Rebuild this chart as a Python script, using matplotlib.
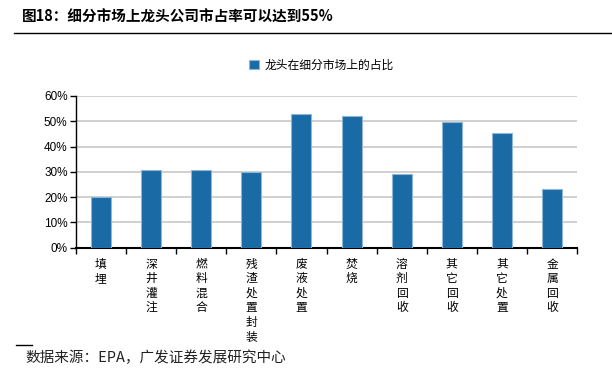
import matplotlib
matplotlib.use("Agg")
from matplotlib import pyplot as plt
from matplotlib.lines import Line2D
from matplotlib.ticker import MultipleLocator, PercentFormatter

plt.rcParams['font.family'] = ['Noto Sans CJK SC', 'DejaVu Sans']

categories = ["填埋", "深井灌注", "燃料混合", "残渣处置/封装", "废液处置",
              "焚烧", "溶剂回收", "其它回收", "其它处置", "金属回收"]
share = [20.1, 30.7, 30.7, 30.0, 52.8, 52.0, 29.1, 49.6, 45.2, 23.2]
series_name = "龙头在细分市场上的占比"
title = "图18：细分市场上龙头公司市占率可以达到55%"
source = "数据来源：EPA，广发证券发展研究中心"

bar_color = "#1A6AA6"

fig = plt.figure(figsize=(6.12, 3.76), dpi=100)
ax = fig.add_axes([0.124, 0.341, 0.819, 0.404])

x = range(len(categories))
ax.bar(x, share, width=0.4, color=bar_color, edgecolor="#8DB6D8",
       linewidth=0.8, label=series_name, zorder=3)

ax.set_xlim(-0.5, len(categories) - 0.5)
ax.set_ylim(0, 60)
ax.yaxis.set_major_locator(MultipleLocator(10))
ax.yaxis.set_major_formatter(PercentFormatter(decimals=0))
ax.grid(axis="y", color="#C8C8C8", linewidth=1.2, zorder=0)
for s in ["top", "right"]:
    ax.spines[s].set_visible(False)
ax.spines["left"].set_linewidth(1.0)
ax.spines["bottom"].set_linewidth(1.5)

for lab in ax.get_yticklabels():
    lab.set_family(["Liberation Sans"])
    lab.set_fontsize(8.5)
ax.tick_params(axis="y", length=4, width=1, pad=2)

# category boundaries get the tick marks, labels sit in the middle
ax.set_xticks([i - 0.5 for i in range(len(categories) + 1)])
ax.set_xticklabels([])
ax.tick_params(axis="x", length=4, width=1, direction="out")
ax.set_xticks(list(x), minor=True)
vert = ["\n".join(c for c in name if c != "/") for name in categories]
ax.set_xticklabels(vert, minor=True, fontsize=8.5, linespacing=1.15,
                   va="top")
ax.tick_params(axis="x", which="minor", length=0, pad=7)

ax.legend(loc="center", bbox_to_anchor=(0.49, 1.2), frameon=False,
          fontsize=8.5, handlelength=0.8, handleheight=0.8,
          handletextpad=0.5)

fig.text(0.036, 0.955, title, fontsize=10.5, fontweight="bold", va="center")
fig.add_artist(Line2D([0.023, 1.0], [0.912, 0.912], color="black",
                      linewidth=1.0))
fig.add_artist(Line2D([0.026, 0.052], [0.083, 0.083], color="black",
                      linewidth=1.0))
fig.text(0.041, 0.048, source, fontsize=10.5, va="center", color="#222222")

fig.savefig("out.png", dpi=100)
